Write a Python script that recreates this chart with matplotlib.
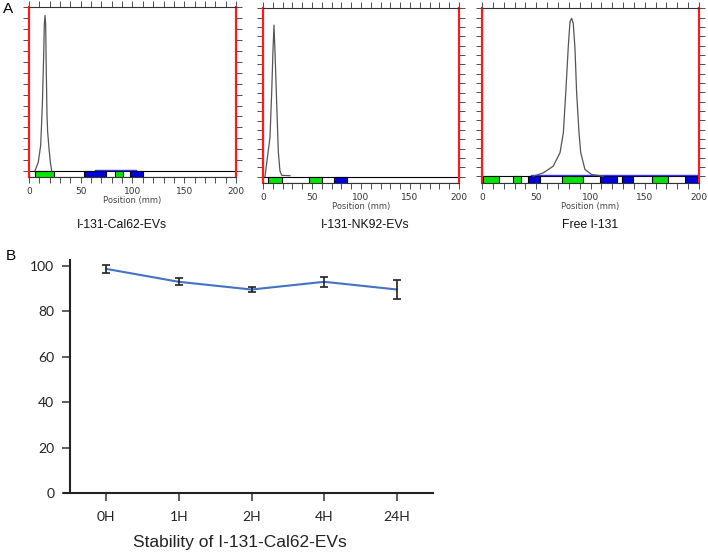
import numpy as np
import matplotlib
matplotlib.use('Agg')
import matplotlib.pyplot as plt
from matplotlib.ticker import MultipleLocator, FixedLocator

# ---------------- data ----------------
timepoints = ['0H', '1H', '2H', '4H', '24H']
stability = [98.7, 93.0, 89.6, 93.0, 89.6]
stability_err = [1.8, 1.5, 1.2, 2.2, 4.3]

panel_titles = ['I-131-Cal62-EVs', 'I-131-NK92-EVs', 'Free I-131']

cal62_pos = [5.8, 9.0, 11.3, 12.9, 14.2, 14.8, 15.5, 16.1, 16.7, 17.4, 18.0, 19.3, 20.6, 21.9]
cal62_counts = [0, 5.5, 15.8, 40.5, 71, 89.5, 95, 89.5, 61, 34, 24, 14, 5.5, 0]

nk92_pos = [2.0, 4.4, 7.1, 8.8, 10.2, 11.2, 12.2, 14.0, 15.6, 17.3, 19.1, 27.5]
nk92_counts = [0, 11, 23, 49, 75, 90, 75, 43, 15, 3.4, 0.8, 0.6]

free_pos = [47.3, 56.5, 65.7, 71.9, 75.0, 77.4, 79.6, 81.1, 82.6, 84.1, 85.7, 87.2,
            89.4, 91.0, 94.9, 101.0, 111.8]
free_counts = [0, 2, 6, 14, 26, 52, 78, 92, 94, 91, 76, 50, 26, 14, 4, 1, 0]

cal62_reg_start = [5.5, 52.9, 82.9, 97.4]
cal62_reg_end = [24.2, 74.2, 91.3, 109.7]
cal62_reg_kind = ['roi', 'bkg', 'roi', 'bkg']

nk92_reg_start = [5.4, 47.3, 72.4]
nk92_reg_end = [19.0, 59.9, 85.4]
nk92_reg_kind = ['roi', 'roi', 'bkg']

free_reg_start = [1.0, 29.0, 42.5, 74.0, 108.8, 129.0, 156.4, 187.0]
free_reg_end = [16.0, 35.6, 53.6, 93.4, 124.8, 139.5, 171.5, 198.0]
free_reg_kind = ['roi', 'roi', 'bkg', 'roi', 'bkg', 'bkg', 'roi', 'bkg']

cal62_bkg_line = [64, 103]
free_bkg_line = [45, 198]

position_ticks = [0, 50, 100, 150, 200]

# ---------------- figure ----------------
W, H = 708, 553
fig = plt.figure(figsize=(W / 100, H / 100), dpi=100)


def px_axes(x0, y0, x1, y1):
    return fig.add_axes([x0 / W, 1 - y1 / H, (x1 - x0) / W, (y1 - y0) / H])


kind_color = {'roi': '#00e600', 'bkg': '#0000dd'}

panels = [
    dict(box=(29, 7.3, 236, 177), base=171, pos=cal62_pos, cnt=cal62_counts,
         rs=cal62_reg_start, re=cal62_reg_end, rk=cal62_reg_kind, bl=cal62_bkg_line,
         nyt=15, title=panel_titles[0], cx=122),
    dict(box=(263, 8.3, 459, 183.3), base=176.7, pos=nk92_pos, cnt=nk92_counts,
         rs=nk92_reg_start, re=nk92_reg_end, rk=nk92_reg_kind, bl=None,
         nyt=18, title=panel_titles[1], cx=365),
    dict(box=(482, 8.3, 699, 183.5), base=176.2, pos=free_pos, cnt=free_counts,
         rs=free_reg_start, re=free_reg_end, rk=free_reg_kind, bl=free_bkg_line,
         nyt=18, title=panel_titles[2], cx=590),
]

for p in panels:
    x0, y0, x1, y1 = p['box']
    ax = px_axes(x0, y0, x1, y1)
    ppu = (p['base'] - y0) / 100.0
    strip = (y1 - p['base']) / ppu
    ax.set_xlim(0, 200)
    ax.set_ylim(-strip, 100)
    # strip
    ax.bar([0], [strip], width=200, bottom=-strip, align='edge',
           color='white', edgecolor='black', linewidth=0.8, zorder=2)
    ax.bar(p['rs'], [strip] * len(p['rs']),
           width=np.array(p['re']) - np.array(p['rs']), bottom=-strip, align='edge',
           color=[kind_color[k] for k in p['rk']], edgecolor='black', linewidth=0.8, zorder=3)
    if p['bl'] is not None:
        ax.plot(p['bl'], [0.6, 0.6], color='#3333ff', lw=1.0, zorder=4)
    ax.plot(p['pos'], p['cnt'], color='#555555', lw=0.9, zorder=5)
    for s in ['left', 'right']:
        ax.spines[s].set_color('#ff1a1a')
        ax.spines[s].set_linewidth(1.6)
    ax.spines['top'].set_color('#333333')
    ax.spines['top'].set_linewidth(0.8)
    ax.spines['bottom'].set_color('#333333')
    ax.spines['bottom'].set_linewidth(0.8)
    ax.xaxis.set_major_locator(FixedLocator(position_ticks))
    ax.xaxis.set_minor_locator(MultipleLocator(10))
    ax.tick_params(axis='x', which='both', direction='out', top=True, bottom=True,
                   length=4, width=0.6, color='#333333', labelsize=6.5,
                   labelcolor='#333333', pad=3)
    ax.yaxis.set_major_locator(MultipleLocator(100.0 / p['nyt']))
    ax.tick_params(axis='y', which='both', direction='out', left=True, right=True,
                   length=4, width=0.6, color='#333333', labelleft=False)
    ax.set_xticklabels([str(t) for t in position_ticks], family='DejaVu Sans')
    ax.set_xlabel('Position (mm)', fontsize=6, color='#444444', labelpad=0)
    fig.text(p['cx'] / W, 1 - 225 / H, p['title'], ha='center', va='center',
             fontsize=8.8, family='Liberation Sans', color='#111111')

fig.text(8 / W, 1 - 9 / H, 'A', ha='center', va='center', fontsize=11,
         family='Liberation Sans')
fig.text(11 / W, 1 - 256 / H, 'B', ha='center', va='center', fontsize=11,
         family='Liberation Sans')

# ---------------- panel B ----------------
bx = px_axes(63.8, 260, 433.4, 493)
xs = np.arange(len(timepoints))
bx.plot(xs, stability, color='#4472c4', lw=1.5, zorder=2)
bx.errorbar(xs, stability, yerr=stability_err, fmt='none', ecolor='#222222',
            elinewidth=1.2, capsize=3, capthick=1.2, zorder=3)
bx.set_xlim(-0.58, 4.5)
bx.set_ylim(0, 102.6)
bx.set_xticks(xs)
bx.set_xticklabels(timepoints)
bx.set_yticks([0, 20, 40, 60, 80, 100])
for s in ['top', 'right']:
    bx.spines[s].set_visible(False)
bx.spines['left'].set_position(('data', -0.5))
for s in ['left', 'bottom']:
    bx.spines[s].set_color('#222222')
    bx.spines[s].set_linewidth(1.5)
bx.tick_params(axis='x', direction='out', length=6, width=1.2, color='#444444',
               pad=7, labelsize=10, labelcolor='#222222')
bx.tick_params(axis='y', direction='out', length=6, width=1.2, color='#444444',
               pad=5, labelsize=10, labelcolor='#222222')
for lab in bx.get_xticklabels() + bx.get_yticklabels():
    lab.set_family('Lato')

fig.text(240 / W, 1 - 543 / H, 'Stability of I-131-Cal62-EVs', ha='center',
         va='center', fontsize=12.5, family='Liberation Sans', color='#222222')

fig.savefig('out.png', dpi=100)
